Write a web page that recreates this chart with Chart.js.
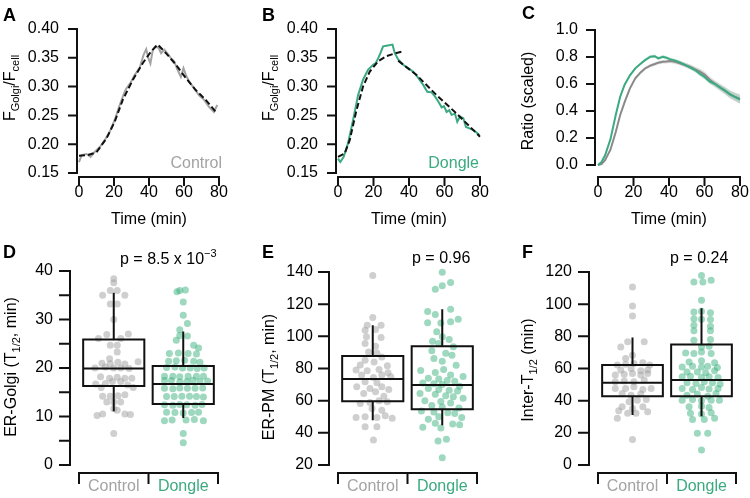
<!DOCTYPE html>
<html>
<head>
<meta charset="utf-8">
<script src="https://cdn.jsdelivr.net/npm/chart.js@4.4.1/dist/chart.umd.min.js"></script>
<style>
  body { margin: 0; background: #fff; width: 750px; height: 498px; position: relative; overflow: hidden; }
  canvas { position: absolute; }
</style>
</head>
<body>
<canvas id="cA" width="250" height="240" style="left:0;top:0"></canvas>
<canvas id="cB" width="250" height="240" style="left:250px;top:0"></canvas>
<canvas id="cC" width="250" height="240" style="left:500px;top:0"></canvas>
<canvas id="cD" width="250" height="258" style="left:0;top:240px"></canvas>
<canvas id="cE" width="250" height="258" style="left:250px;top:240px"></canvas>
<canvas id="cF" width="250" height="258" style="left:500px;top:240px"></canvas>
<script>
// ---- data ----
// A: control trace and its fit
const ctrlTime = [0,1.5,4.3,6.6,9.1,11.9,14.7,17.6,20.4,22.9,25.1,26.7,29.3,31.8,34.6,36.9,38.4,39.7,40.8,42.2,43.7,45.6,46.9,48.8,50.7,52.6,54.4,56.3,58.2,59.7,61.1,62.9,65.8,68.6,71.5,74.3,77.1,79.0];
const ctrlTrace = [0.169,0.181,0.183,0.178,0.187,0.195,0.207,0.222,0.242,0.265,0.283,0.295,0.306,0.320,0.332,0.355,0.365,0.349,0.340,0.364,0.370,0.367,0.358,0.364,0.357,0.349,0.344,0.329,0.317,0.332,0.320,0.309,0.297,0.285,0.277,0.265,0.256,0.268];
const ctrlFitTime = [0,5,10,15.7,20.4,25,30.8,36.5,41.2,45,49.7,55.4,61,66.7,72.4,79];
const ctrlFit = [0.180,0.181,0.186,0.210,0.239,0.277,0.312,0.341,0.361,0.373,0.358,0.338,0.315,0.294,0.277,0.253];

// B: dongle trace and its two fit pieces
const dngTime = [0,1.3,3.2,5.6,8.5,11.3,14.1,16.9,19.8,21.3,22.6,23.9,25.4,27.3,30.7,32,33.9,36.7,39.5,42.4,45.2,48,50.3,52.7,54.6,56.5,58.4,59.7,61.2,62.7,64,65.9,67.2,68.7,70.6,72.1,74.4,76.6,79.7];
const dngTrace = [0.175,0.169,0.178,0.201,0.242,0.285,0.312,0.329,0.338,0.341,0.349,0.358,0.370,0.371,0.373,0.358,0.347,0.338,0.332,0.326,0.315,0.303,0.291,0.290,0.283,0.274,0.264,0.266,0.256,0.259,0.251,0.253,0.239,0.248,0.245,0.230,0.227,0.224,0.216];
const dngRiseTime = [0,3.8,6.6,10.4,14.1,17.9,22.6,27.3,31.5,36.3];
const dngRise = [0.178,0.184,0.207,0.259,0.300,0.326,0.344,0.353,0.357,0.361];
const dngFallTime = [33.9,44.3,55.6,66.9,80];
const dngFall = [0.345,0.320,0.285,0.253,0.213];

// C: scaled ratio, mean and error band
const ratioTime = [0,2,4,7,10,12.5,15,18,21,24,26.5,29.5,32,34,36.5,38.5,40.5,43.5,46,49,52,54.5,57.5,60,63,66,68.5,71.5,74.5,77,80];
const ctrlRatio = [0,0.006,0.035,0.113,0.245,0.37,0.466,0.568,0.642,0.686,0.715,0.736,0.748,0.758,0.764,0.766,0.77,0.765,0.754,0.741,0.727,0.71,0.691,0.67,0.632,0.6,0.577,0.551,0.522,0.506,0.49];
const ctrlRatioErr = [0,0.003,0.005,0.008,0.01,0.012,0.012,0.012,0.012,0.012,0.012,0.012,0.012,0.013,0.013,0.014,0.015,0.016,0.016,0.017,0.018,0.02,0.022,0.022,0.024,0.025,0.026,0.028,0.03,0.032,0.034];
const dngRatio = [0,0.022,0.072,0.19,0.37,0.506,0.595,0.664,0.716,0.75,0.777,0.802,0.806,0.79,0.802,0.795,0.784,0.773,0.76,0.742,0.722,0.705,0.674,0.652,0.618,0.6,0.577,0.551,0.523,0.505,0.484];
const dngRatioErr = [0,0.003,0.005,0.008,0.01,0.01,0.01,0.01,0.01,0.01,0.01,0.012,0.012,0.012,0.012,0.012,0.013,0.013,0.014,0.015,0.016,0.017,0.018,0.019,0.02,0.021,0.022,0.024,0.026,0.028,0.03];

// D: ER-Golgi T1/2 (min); box = [whisker lo, q1, median, q3, whisker hi]
const golgiCtrlVals = [38.4,37.6,36.0,36.0,35.0,35.0,33.2,33.2,30.0,26.9,26.1,26.1,27.0,24.7,24.7,23.3,21.9,21.0,20.9,21.2,20.8,21.3,20.0,20.2,20.0,20.0,19.9,18.2,17.9,18.1,17.9,17.9,16.7,16.8,17.2,17.2,16.5,16.0,16.0,14.2,14.2,14.3,14.5,13.0,13.0,13.0,11.6,11.3,10.5,10.5,10.2,10.4,6.5];
const golgiCtrlJit = [0,0,-0.05,0.05,-0.16,0.16,-0.05,0.05,0,-0.1,-0.22,0.1,0.21,-0.05,0.05,0.05,-0.06,-0.17,-0.05,0.06,0.16,0.35,-0.27,-0.12,0,0.1,0.22,-0.19,-0.06,0.05,0.16,0.26,-0.26,-0.12,-0.02,0.1,0.2,-0.18,0.28,-0.16,-0.05,0.06,0.16,-0.1,0.1,0,0,0.05,-0.16,0.16,-0.24,0.24,0];
const golgiDngVals = [36.0,36.1,35.7,33.6,30.9,29.2,27.9,26.7,26.6,25.7,24.7,24.1,23.0,23.1,23.0,22.9,21.4,21.5,21.6,21.4,21.2,20.1,20.2,20.0,20.0,19.9,20.0,18.3,18.3,18.2,18.3,18.3,18.3,17.4,17.4,17.1,17.2,17.5,17.2,17.3,15.8,15.7,15.9,15.8,15.8,15.9,14.1,14.1,14.2,14.2,14.1,14.0,12.4,12.3,12.5,12.4,12.3,12.5,10.9,10.8,10.7,10.8,10.9,9.1,9.3,9.3,9.4,9.1,6.5,4.6];
const golgiDngJit = [-0.05,0.03,-0.09,0,0,0.06,-0.05,-0.05,0.06,-0.1,0.15,0.22,-0.2,-0.07,0.07,0.19,-0.21,-0.1,0.02,0.15,0.24,-0.24,-0.12,-0.01,0.1,0.2,0.3,-0.27,-0.15,-0.05,0.07,0.19,0.29,-0.27,-0.17,-0.05,0.05,0.14,0.24,0.35,-0.27,-0.15,-0.05,0.06,0.17,0.28,-0.24,-0.13,-0.02,0.09,0.19,0.29,-0.27,-0.15,-0.05,0.05,0.17,0.27,-0.24,-0.12,0,0.12,0.22,-0.27,-0.16,0.04,0.16,0.29,0,0];
const golgiCtrlBox = [11.3, 16.3, 19.9, 25.9, 35.3];
const golgiDngBox = [9.9, 12.6, 16.7, 20.4, 27.3];

// E: ER-PM T1/2 (min)
const pmCtrlVals = [137.9,111.7,106.9,106.9,103.8,104.2,99.7,99.2,95.5,93.9,90.3,89.7,87.2,85.2,82.1,84.1,81.7,79.0,78.6,79.4,77.3,75.9,74.4,75.9,74.8,71.7,71.1,68.6,67.6,68.6,67.0,64.5,65.5,62.8,58.3,58.9,59.9,59.3,55.2,54.1,49.6,50.0,49.6,50.6,49.0,43.8,43.8,35.5];
const pmCtrlJit = [0,0,-0.08,0.12,-0.11,0.04,-0.09,0.12,-0.11,0.04,-0.06,0.06,0.13,-0.11,-0.18,0.02,0.21,-0.24,-0.08,0.09,0.22,-0.16,0.01,0.13,0.26,-0.11,0.06,-0.23,-0.04,0.13,0.23,-0.13,0.04,0.16,-0.18,-0.04,0.09,0.21,-0.01,0.13,-0.24,-0.11,0.06,0.18,0.28,-0.11,0.06,0.01];
const pmDngVals = [139.8,133.4,131.5,129.2,116.8,115.5,113.5,110.6,109.0,108.5,108.3,102.8,99.7,98.0,97.0,95.5,93.5,91.0,89.5,88.3,86.2,84.5,82.0,79.4,78.8,77.5,76.0,75.0,74.0,73.5,72.5,72.0,71.0,70.5,70.0,69.0,67.5,67.0,66.5,66.0,64.5,64.0,63.0,62.5,61.5,60.0,59.5,58.5,57.0,56.0,55.5,53.5,53.0,52.5,52.0,50.0,49.5,48.5,46.0,45.5,45.0,43.5,43.0,36.0,35.0,24.5];
const pmDngJit = [0,0.12,0,-0.1,0.12,-0.21,-0.1,0.23,0.12,-0.21,-0.02,-0.08,0,0.1,-0.14,-0.05,0.16,-0.15,0.05,0.14,-0.12,0,0.2,0.02,-0.31,-0.1,0.12,0.3,-0.2,-0.05,0.07,0.18,-0.28,-0.12,0,0.25,-0.2,-0.05,0.1,0.22,-0.32,-0.1,0.05,0.16,0.3,-0.25,-0.02,0.12,-0.15,0,0.24,-0.3,-0.12,0.08,0.18,-0.05,0.28,-0.2,-0.1,0.15,0.25,-0.28,-0.02,0.06,-0.06,0];
const pmCtrlBox = [48.4, 59.7, 73.4, 87.8, 106.3];
const pmDngBox = [45.4, 54.6, 69.8, 93.8, 116.2];

// F: Inter-T1/2 (min)
const interCtrlVals = [110.7,98.9,92.7,76.6,76.6,73.4,68.3,66.2,62.1,62.7,63.1,63.5,62.1,59.0,60.0,58.6,59.0,55.9,56.5,56.9,55.9,56.9,51.7,52.3,51.7,52.8,47.6,47.6,48.6,47.0,47.6,44.5,43.4,44.1,39.3,40.3,40.8,36.2,35.2,36.2,33.7,32.1,32.1,33.1,29.0,15.9];
const interCtrlJit = [0,0,0,-0.07,0.17,-0.17,0,-0.1,-0.22,-0.1,0.02,0.15,0.25,-0.17,-0.02,0.12,0.22,-0.25,-0.12,0,0.12,0.22,-0.25,-0.12,0.02,0.17,-0.25,-0.1,0.02,0.15,0.27,-0.15,-0.02,0.12,-0.05,0.07,0.2,-0.15,0,0.15,-0.2,-0.07,0.05,0.22,-0.22,0];
const interDngVals = [117.9,113.8,113.8,114.8,102.4,95.2,95.6,94.6,91.0,90.6,90.4,86.9,86.3,83.4,83.4,77.6,78.0,73.4,73.9,69.7,69.3,70.3,69.3,64.1,64.8,63.5,61.0,61.4,61.0,61.4,60.6,57.9,57.9,57.3,58.6,54.8,55.2,54.4,54.8,54.4,51.1,50.7,51.7,51.1,50.3,47.6,47.0,48.2,47.2,47.6,43.4,44.1,42.8,44.5,40.3,40.8,39.9,40.3,40.3,36.2,36.6,35.8,32.1,31.7,32.5,28.3,28.3,29.0,19.7,19.7,9.3];
const interDngJit = [0,-0.11,0.02,0.14,0,-0.11,0,0.13,-0.11,0,0.13,-0.11,0.13,-0.11,0.13,-0.11,0.13,0,0.11,-0.23,-0.11,0,0.14,-0.18,0,0.19,-0.28,-0.13,0,0.09,0.23,-0.21,-0.06,0.06,0.19,-0.28,-0.16,0,0.11,0.24,-0.21,-0.08,0.04,0.16,0.27,-0.28,-0.13,0,0.11,0.24,-0.21,-0.06,0.09,0.21,-0.28,-0.13,0,0.14,0.26,-0.18,0,0.11,-0.16,0,0.14,-0.13,0.04,0.19,-0.06,0.09,0];
const interCtrlBox = [31.7, 42.8, 51.1, 62.1, 78.6];
const interDngBox = [31.0, 42.8, 52.8, 74.9, 96.8];

const groups = ['Control', 'Dongle'];

// ---- styling ----
const FAMILY = '"Liberation Sans", Arial, Helvetica, sans-serif';
const GRAY = '#a3a3a3';
const GRAY_DARK = '#8a8a8a';
const GREEN = '#3caa80';
const GRAY_DOT = 'rgba(160,160,160,0.5)';
const GREEN_DOT = 'rgba(60,178,128,0.5)';

Chart.defaults.font.family = FAMILY;
Chart.defaults.font.size = 16;
Chart.defaults.color = '#000';
Chart.defaults.animation = false;
Chart.defaults.plugins.legend.display = false;
Chart.defaults.plugins.tooltip.enabled = false;

const xy = (xs, ys) => xs.map((x, i) => ({ x: x, y: ys[i] }));
const jitter = (c, vals, jit) => vals.map((v, i) => ({ x: c + jit[i], y: v }));

// box outline, median, whiskers as one broken line
function boxPath(c, s) {
  const w = 0.44, gap = { x: c, y: null };
  return [
    { x: c - w, y: s[1] }, { x: c - w, y: s[3] }, { x: c + w, y: s[3] }, { x: c + w, y: s[1] }, { x: c - w, y: s[1] }, gap,
    { x: c - w, y: s[2] }, { x: c + w, y: s[2] }, gap,
    { x: c, y: s[3] }, { x: c, y: s[4] }, gap,
    { x: c, y: s[1] }, { x: c, y: s[0] }
  ];
}

// detached axis lines with tick marks
const offsetAxes = {
  id: 'offsetAxes',
  afterDraw(chart, args, o) {
    const { ctx, chartArea: a } = chart;
    const x = chart.scales.x, y = chart.scales.y;
    const sx = a.left - o.yOff, sy = a.bottom + o.xOff;
    ctx.save();
    ctx.strokeStyle = '#111';
    ctx.lineWidth = 2;
    ctx.lineCap = 'square';
    ctx.beginPath();
    ctx.moveTo(sx, y.getPixelForValue(y.min));
    ctx.lineTo(sx, y.getPixelForValue(y.max));
    y.ticks.forEach(t => {
      const py = y.getPixelForValue(t.value);
      ctx.moveTo(sx - o.tick, py);
      ctx.lineTo(sx, py);
    });
    const marks = o.xMarks || x.ticks.map(t => t.value);
    ctx.moveTo(x.getPixelForValue(marks[0]), sy);
    ctx.lineTo(x.getPixelForValue(marks[marks.length - 1]), sy);
    marks.forEach(v => {
      const px = x.getPixelForValue(v);
      ctx.moveTo(px, sy);
      ctx.lineTo(px, sy + o.tick);
    });
    ctx.stroke();
    ctx.restore();
  }
};

// free text with sub/superscripts (axis titles, panel letters, p values)
function drawRich(ctx, it) {
  const base = it.size || 16;
  const fontFor = k => (it.bold ? 'bold ' : '') + (k === 'n' ? base : Math.round(base * 0.7)) + 'px ' + FAMILY;
  let w = 0;
  it.parts.forEach(([t, k]) => { ctx.font = fontFor(k); w += ctx.measureText(t).width; });
  ctx.save();
  ctx.translate(it.x, it.y);
  if (it.rot) ctx.rotate(it.rot);
  let cx = it.align === 'left' ? 0 : it.align === 'right' ? -w : -w / 2;
  ctx.fillStyle = it.color || '#000';
  ctx.textBaseline = 'alphabetic';
  ctx.textAlign = 'left';
  it.parts.forEach(([t, k]) => {
    ctx.font = fontFor(k);
    const dy = k === 'sub' ? base * 0.28 : k === 'sup' ? -base * 0.42 : 0;
    ctx.fillText(t, cx, dy);
    cx += ctx.measureText(t).width;
  });
  ctx.restore();
}
const texts = {
  id: 'texts',
  afterDraw(chart, args, o) {
    (o.items || []).forEach(it => drawRich(chart.ctx, it));
  }
};

const UP = -Math.PI / 2;

function panel(id, cfg) {
  const xs = cfg.x, ys = cfg.y;
  return new Chart(document.getElementById(id), {
    type: 'line',
    data: { datasets: cfg.datasets },
    options: {
      responsive: false,
      animation: false,
      layout: { padding: cfg.pad, autoPadding: false },
      elements: { point: { radius: 0 }, line: { tension: 0 } },
      datasets: { line: { clip: false } },
      scales: {
        x: {
          type: 'linear', min: xs.min, max: xs.max,
          afterBuildTicks: xs.values ? (s => { s.ticks = xs.values.map(v => ({ value: v })); }) : undefined,
          ticks: { stepSize: xs.step, autoSkip: false, maxRotation: 0, padding: 0, callback: xs.label, color: xs.color || '#000' },
          grid: { drawOnChartArea: false, tickLength: xs.gap, tickColor: 'transparent' },
          border: { display: false },
          afterFit: s => { s.height = xs.h; }
        },
        y: {
          type: 'linear', min: ys.min, max: ys.max,
          ticks: { stepSize: ys.step, autoSkip: false, padding: 0, callback: ys.label },
          grid: { drawOnChartArea: false, tickLength: ys.gap, tickColor: 'transparent' },
          border: { display: false },
          afterFit: s => { s.width = ys.w; }
        }
      },
      plugins: {
        offsetAxes: cfg.axes,
        texts: { items: cfg.texts }
      }
    },
    plugins: [offsetAxes, texts]
  });
}

const timeAxis = { min: 0, max: 80, step: 20, gap: 10, h: 67, label: v => v };
const fixed2 = v => v.toFixed(2);
const catAxis = {
  min: -0.5, max: 1.5, values: [-0.5, 0, 0.5, 1, 1.5], gap: 12, h: 33,
  label: v => (v === 0 ? groups[0] : v === 1 ? groups[1] : ''),
  color: c => (c.tick && c.tick.value === 1 ? GREEN : GRAY)
};
const fGolgiTitle = [['F', 'n'], ['Golgi', 'sub'], ['/F', 'n'], ['cell', 'sub']];

// A
panel('cA', {
  pad: { left: 0, top: 29, right: 31, bottom: 0 },
  x: timeAxis,
  y: { min: 0.15, max: 0.40, step: 0.05, gap: 20, w: 79, label: fixed2 },
  axes: { yOff: 2, xOff: 4, tick: 8 },
  datasets: [
    { data: xy(ctrlFitTime, ctrlFit), borderColor: '#111', borderWidth: 2, borderDash: [6, 3] },
    { data: xy(ctrlTime, ctrlTrace), borderColor: GRAY, borderWidth: 2 }
  ],
  texts: [
    { parts: [['A', 'n']], x: 3, y: 21, size: 18, bold: true, align: 'left' },
    { parts: fGolgiTitle, x: 15, y: 88, rot: UP },
    { parts: [['Time (min)', 'n']], x: 149, y: 224 },
    { parts: [['Control', 'n']], x: 222, y: 168, align: 'right', color: GRAY }
  ]
});

// B
panel('cB', {
  pad: { left: 0, top: 29, right: 20, bottom: 0 },
  x: timeAxis,
  y: { min: 0.15, max: 0.40, step: 0.05, gap: 20, w: 88, label: fixed2 },
  axes: { yOff: 2, xOff: 4, tick: 8 },
  datasets: [
    { data: xy(dngRiseTime, dngRise), borderColor: '#111', borderWidth: 2, borderDash: [6, 3] },
    { data: xy(dngFallTime, dngFall), borderColor: '#111', borderWidth: 2, borderDash: [6, 3] },
    { data: xy(dngTime, dngTrace), borderColor: GREEN, borderWidth: 2 }
  ],
  texts: [
    { parts: [['B', 'n']], x: 12, y: 21, size: 18, bold: true, align: 'left' },
    { parts: fGolgiTitle, x: 24, y: 88, rot: UP },
    { parts: [['Time (min)', 'n']], x: 159, y: 224 },
    { parts: [['Dongle', 'n']], x: 229, y: 168, align: 'right', color: GREEN }
  ]
});

// C
panel('cC', {
  pad: { left: 0, top: 30, right: 10, bottom: 0 },
  x: Object.assign({}, timeAxis, { h: 75, gap: 18 }),
  y: { min: 0, max: 1, step: 0.2, gap: 20, w: 98, label: v => v.toFixed(1) },
  axes: { yOff: 3, xOff: 12, tick: 8 },
  datasets: [
    { data: xy(ratioTime, dngRatio), borderColor: GREEN, borderWidth: 2, order: 0 },
    { data: xy(ratioTime, ctrlRatio), borderColor: GRAY_DARK, borderWidth: 2, order: 1 },
    { data: xy(ratioTime, ctrlRatio.map((v, i) => v + ctrlRatioErr[i])), borderWidth: 0, fill: '+1', backgroundColor: 'rgba(150,150,150,0.3)', order: 2 },
    { data: xy(ratioTime, ctrlRatio.map((v, i) => v - ctrlRatioErr[i])), borderWidth: 0, order: 2 },
    { data: xy(ratioTime, dngRatio.map((v, i) => v + dngRatioErr[i])), borderWidth: 0, fill: '+1', backgroundColor: 'rgba(60,170,128,0.25)', order: 3 },
    { data: xy(ratioTime, dngRatio.map((v, i) => v - dngRatioErr[i])), borderWidth: 0, order: 3 }
  ],
  texts: [
    { parts: [['C', 'n']], x: 22, y: 19, size: 18, bold: true, align: 'left' },
    { parts: [['Ratio (scaled)', 'n']], x: 33, y: 101, rot: UP },
    { parts: [['Time (min)', 'n']], x: 169, y: 224 }
  ]
});

function boxSets(ctrlVals, ctrlJit, dngVals, dngJit, ctrlBox, dngBox) {
  const line = d => ({ data: d, borderColor: '#111', borderWidth: 2, spanGaps: false, borderJoinStyle: 'miter', borderCapStyle: 'square', order: 0 });
  const dots = (d, c) => ({ data: d, showLine: false, pointRadius: 3.5, pointBorderWidth: 0, pointBackgroundColor: c, order: 1 });
  return [
    line(boxPath(0, ctrlBox)),
    line(boxPath(1, dngBox)),
    dots(jitter(0, ctrlVals, ctrlJit), GRAY_DOT),
    dots(jitter(1, dngVals, dngJit), GREEN_DOT)
  ];
}
const boxAxes = { yOff: 9, xOff: 8, tick: 10, xMarks: [-0.5, 0.5, 1.5] };

// D
panel('cD', {
  pad: { left: 0, top: 31, right: 32, bottom: 0 },
  x: catAxis,
  y: { min: 0, max: 40, step: 5, gap: 26, w: 79, label: v => (v % 10 === 0 ? v : '') },
  axes: boxAxes,
  datasets: boxSets(golgiCtrlVals, golgiCtrlJit, golgiDngVals, golgiDngJit, golgiCtrlBox, golgiDngBox),
  texts: [
    { parts: [['D', 'n']], x: 3, y: 18, size: 18, bold: true, align: 'left' },
    { parts: [['ER-Golgi (T', 'n'], ['1/2', 'sub'], [', min)', 'n']], x: 16, y: 127, rot: UP },
    { parts: [['p = 8.5 x 10', 'n'], ['\u22123', 'sup']], x: 120, y: 24, align: 'left' }
  ]
});

// E
panel('cE', {
  pad: { left: 0, top: 32, right: 23, bottom: 0 },
  x: catAxis,
  y: { min: 20, max: 140, step: 20, gap: 25, w: 88 },
  axes: boxAxes,
  datasets: boxSets(pmCtrlVals, pmCtrlJit, pmDngVals, pmDngJit, pmCtrlBox, pmDngBox),
  texts: [
    { parts: [['E', 'n']], x: 12, y: 18, size: 18, bold: true, align: 'left' },
    { parts: [['ER-PM (T', 'n'], ['1/2', 'sub'], [', min)', 'n']], x: 24, y: 137, rot: UP },
    { parts: [['p = 0.96', 'n']], x: 162, y: 23, align: 'left' }
  ]
});

// F
panel('cF', {
  pad: { left: 0, top: 32, right: 14, bottom: 0 },
  x: catAxis,
  y: { min: 0, max: 120, step: 20, gap: 26, w: 98 },
  axes: boxAxes,
  datasets: boxSets(interCtrlVals, interCtrlJit, interDngVals, interDngJit, interCtrlBox, interDngBox),
  texts: [
    { parts: [['F', 'n']], x: 22, y: 18, size: 18, bold: true, align: 'left' },
    { parts: [['Inter-T', 'n'], ['1/2', 'sub'], [' (min)', 'n']], x: 33, y: 130, rot: UP },
    { parts: [['p = 0.24', 'n']], x: 170, y: 23, align: 'left' }
  ]
});
</script>
</body>
</html>
